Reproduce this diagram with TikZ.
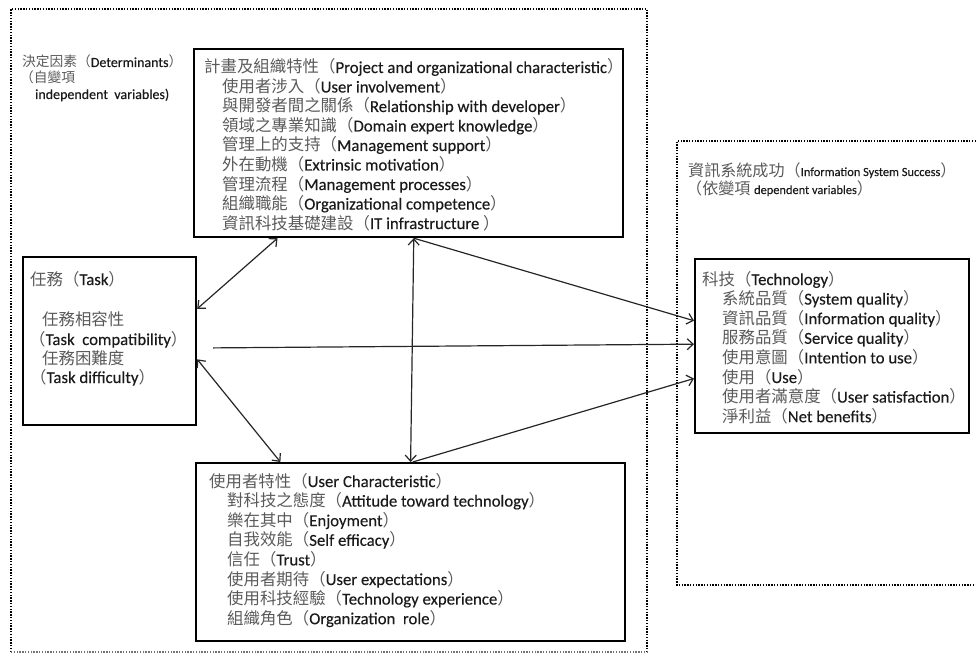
\documentclass[tikz,border=0pt]{standalone}
\usepackage{fontspec}
\setmainfont{Carlito}[FakeBold=0.25]
\newfontfamily\cjk{Noto Sans CJK TC}[Scale=0.98]
\usetikzlibrary{arrows.meta,calc}
\definecolor{zhc}{HTML}{5A5A5A}
\definecolor{enc}{HTML}{1A1A1A}
\newcommand\Lx[2]{{\cjk\color{zhc}#1（}{\color{enc}#2}{\cjk\color{zhc}）}}
\newcommand\Zh[1]{{\cjk\color{zhc}#1}}
\newcommand\Zb[1]{{\cjk\color{zhc}\fontsize{16.4}{18}\selectfont #1}}
\begin{document}
\begin{tikzpicture}[x=1pt,y=-1pt,
  box/.style={draw=black,line width=2.2pt,rectangle,inner sep=0pt,anchor=north west},
  region/.style={draw=black,line width=2pt,dash pattern=on 1.4pt off 1.4pt},
  txt/.style={anchor=base west,inner sep=0pt,font=\fontsize{16.75}{19}\selectfont,text=enc},
  lab/.style={anchor=base west,inner sep=0pt,font=\fontsize{14}{16}\selectfont,text=enc},
  labr/.style={anchor=base west,inner sep=0pt,font=\fontsize{12.4}{15}\selectfont,text=enc},
  link/.style={line width=1.2pt,draw=black!85},
  barb/.tip={Straight Barb[length=6pt,width=11pt,line width=1.2pt]}]
\useasboundingbox (0,0) rectangle (976,655);
% dotted regions
\draw[region] (11,652) -- (11,9) -- (647,9) -- (647,652);
\draw[region,draw=black!55,line width=1.3pt] (11,652) -- (647,652);
\draw[region] (990,141) -- (677,141) -- (677,585) -- (990,585);
% boxes
\node[box,minimum width=429,minimum height=188] (proj) at (193,48) {};
\node[box,minimum width=173,minimum height=168] (task) at (22,256) {};
\node[box,minimum width=429,minimum height=178] (user) at (195,462) {};
\node[box,minimum width=274,minimum height=174] (tech) at (694,258) {};
% region labels
\node[lab] (detA) at (22,67) {\Zh{決定因素（}Determinants\Zh{）}};
\node[lab] (detB) at (20,83) {\Zh{（自變項}};
\node[lab] (detC) at (35,99) {independent\ \ variables)};
\node[labr] (isA) at (688,176) {\Zb{資訊系統成功（}Information System Success\Zb{）}};
\node[labr] (isB) at (686,194) {\Zb{（依變項 }dependent variables\Zb{）}};
% project box text
\node[txt] (p0) at (204,73) {\Lx{計畫及組織特性}{Project and organizational characteristic}};
\foreach \t [count=\i from 1] in {
  \Lx{使用者涉入}{User involvement},
  \Lx{與開發者間之關係}{Relationship with developer},
  \Lx{領域之專業知識}{Domain expert knowledge},
  \Lx{管理上的支持}{Management support},
  \Lx{外在動機}{Extrinsic motivation},
  \Lx{管理流程}{Management processes},
  \Lx{組織職能}{Organizational competence},
  \Lx{資訊科技基礎建設}{IT infrastructure }}
  {\node[txt] (p\i) at (222,{73+19.5*\i}) {\t};}
% task box text
\node[txt] (t0) at (30,285) {\Lx{任務}{Task}};
\node[txt] (t1) at (42,325) {\Zh{任務相容性}};
\node[txt] (t2) at (29,345) {\Zh{（}Task\ \ compatibility\Zh{）}};
\node[txt] (t3) at (42,364) {\Zh{任務困難度}};
\node[txt] (t4) at (30,383) {\Zh{（}Task difficulty\Zh{）}};
% user box text
\node[txt] (u0) at (209,487) {\Lx{使用者特性}{User Characteristic}};
\foreach \t [count=\i from 1] in {
  \Lx{對科技之態度}{Attitude toward technology},
  \Lx{樂在其中}{Enjoyment},
  \Lx{自我效能}{Self efficacy},
  \Lx{信任}{Trust},
  \Lx{使用者期待}{User expectations},
  \Lx{使用科技經驗}{Technology experience},
  \Lx{組織角色}{Organization\ \ role}}
  {\node[txt] (u\i) at (227,{487+19.6*\i}) {\t};}
% technology box text
\node[txt] (g0) at (702,285) {\Lx{科技}{Technology}};
\foreach \t [count=\i from 1] in {
  \Lx{系統品質}{System quality},
  \Lx{資訊品質}{Information quality},
  \Lx{服務品質}{Service quality},
  \Lx{使用意圖}{Intention to use},
  \Lx{使用}{Use},
  \Lx{使用者滿意度}{User satisfaction},
  \Lx{淨利益}{Net benefits}}
  {\node[txt] (g\i) at (722,{285+19.6*\i}) {\t};}
% connectors
\draw[link,{barb}-{barb}] ($(proj.south west)!0.196!(proj.south east)$) -- ($(task.north east)!0.31!(task.south east)$);
\draw[link,{barb}-{barb}] ($(task.north east)!0.607!(task.south east)$) -- ($(user.north west)!0.198!(user.north east)$);
\draw[link,{barb}-{barb}] ($(proj.south west)!0.512!(proj.south east)$) -- ($(user.north west)!0.50!(user.north east)$);
\draw[link,-{barb}] ($(proj.south west)!0.512!(proj.south east)$) -- ($(tech.north west)!0.356!(tech.south west)$);
\draw[link,-{barb}] ($(task.north east)!0.54!(task.south east)+(16,0)$) -- ($(tech.north west)!0.489!(tech.south west)$);
\draw[link,-{barb}] ($(user.north west)!0.505!(user.north east)$) -- ($(tech.north west)!0.684!(tech.south west)$);
\end{tikzpicture}
\end{document}
